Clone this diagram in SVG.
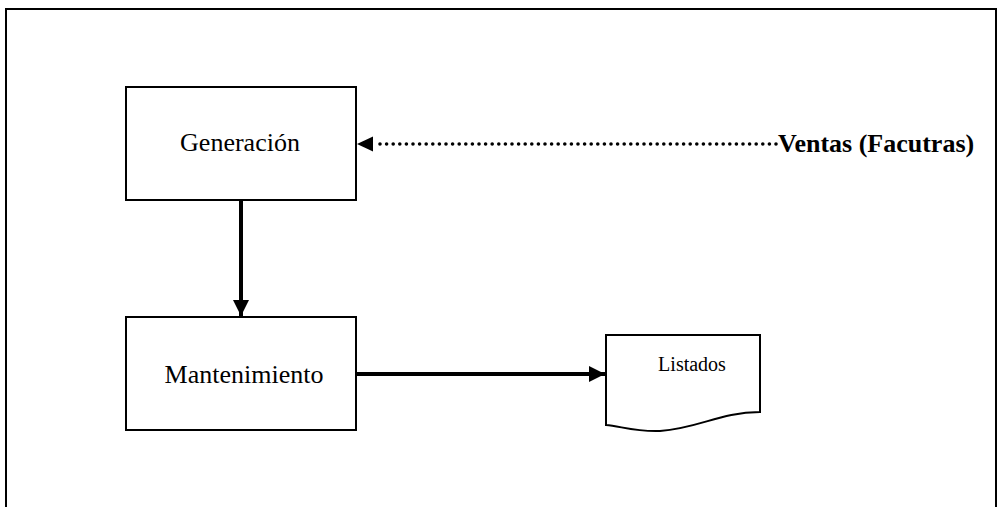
<svg xmlns="http://www.w3.org/2000/svg" width="1004" height="507" viewBox="0 0 1004 507">
<style>
.box{fill:#fff;stroke:#000;stroke-width:2}
.t{font-family:'Liberation Serif','Times New Roman','DejaVu Serif',serif;fill:#000}
.solid{stroke:#000;stroke-width:4;fill:none}
</style>
<defs>
<marker id="ah" viewBox="0 0 10 10" refX="10" refY="5" markerWidth="16" markerHeight="16" markerUnits="userSpaceOnUse" orient="auto">
<path d="M0,0 L10,5 L0,10 z" fill="#000"/>
</marker>
</defs>
<rect width="1004" height="507" fill="#fff"/>
<path d="M6,520 V9 H996 V520" fill="none" stroke="#000" stroke-width="2"/>
<g id="generacion">
<rect class="box" x="126" y="87" width="230" height="113"/>
<text class="t" x="240" y="151" font-size="26" text-anchor="middle">Generación</text>
</g>
<g id="mantenimiento">
<rect class="box" x="126" y="317" width="230" height="113"/>
<text class="t" x="244" y="383" font-size="26" text-anchor="middle">Mantenimiento</text>
</g>
<g id="listados">
<path class="box" d="M606,335 H760 V412 C720,412 700,428 660,431 C635,432 620,426 606,425 Z"/>
<text class="t" x="692" y="371" font-size="20" text-anchor="middle">Listados</text>
</g>
<g id="ventas">
<text class="t" x="778" y="152" font-size="26" font-weight="bold">Ventas (Facutras)</text>
</g>
<g id="connectors">
<line x1="380" y1="144" x2="776" y2="144" stroke="#000" stroke-width="3.6" stroke-linecap="round" stroke-dasharray="0 6.6"/>
<line class="solid" x1="241" y1="201" x2="241" y2="316" marker-end="url(#ah)"/>
<line class="solid" x1="357" y1="374" x2="605" y2="374" marker-end="url(#ah)"/>
<path d="M357,144 L373,136.5 L373,151.5 Z" fill="#000"/>
</g>
</svg>
